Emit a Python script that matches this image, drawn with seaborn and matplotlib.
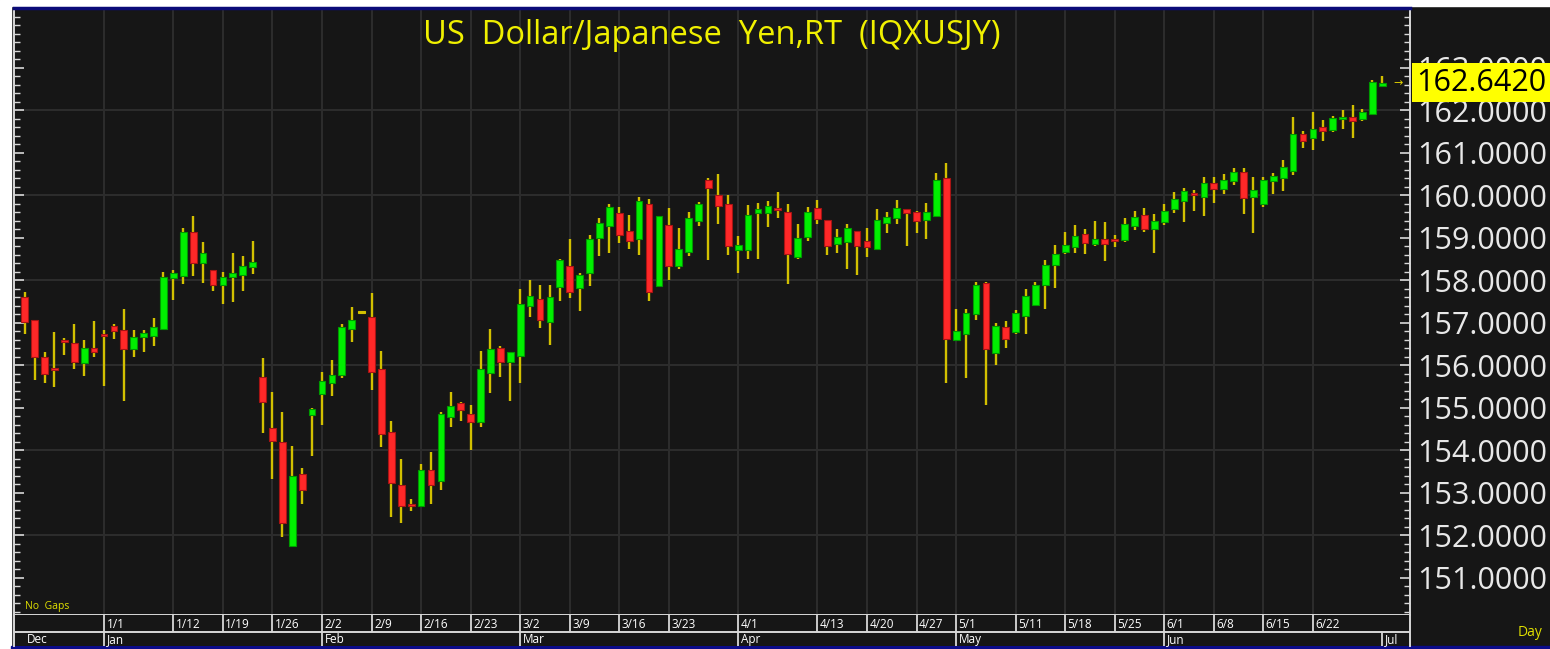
import numpy as np
import pandas as pd
import seaborn as sns
import matplotlib.pyplot as plt
from matplotlib.patches import Rectangle

# daily candles, Dec -> Jul (no gaps)
opens = [157.59, 157.06, 156.19, 155.93, 156.59, 156.52, 156.04, 156.40, 156.73, 156.93,
         156.83, 156.38, 156.65, 156.68, 156.84, 158.04, 158.10, 159.13, 158.41, 158.23,
         157.88, 158.07, 158.11, 158.31, 155.73, 154.53, 154.20, 151.75, 153.43, 154.82,
         155.31, 155.58, 155.77, 156.84, 157.23, 157.12, 155.90, 154.43, 153.17, 152.73,
         152.68, 153.53, 153.28, 154.78, 155.10, 154.86, 154.65, 155.82, 156.39, 156.08,
         156.21, 157.38, 157.56, 157.01, 157.84, 158.32, 157.81, 158.17, 159.00, 159.27,
         159.57, 159.16, 158.97, 159.79, 157.87, 159.29, 158.34, 158.67, 159.40, 160.36,
         160.00, 159.79, 158.71, 158.71, 159.57, 159.57, 159.69, 159.59, 158.54, 159.01,
         159.69, 159.42, 158.84, 158.90, 159.16, 158.92, 158.74, 159.34, 159.47, 159.68,
         159.59, 159.41, 159.51, 160.39, 156.58, 156.72, 157.19, 157.92, 156.29, 156.89,
         156.77, 157.15, 157.42, 157.88, 158.35, 158.67, 158.78, 159.09, 158.85, 158.96,
         158.93, 158.94, 159.28, 159.53, 159.21, 159.37, 159.68, 159.87, 160.05, 159.96,
         160.29, 160.14, 160.33, 160.55, 159.96, 159.80, 160.33, 160.40, 160.57, 161.43,
         161.34, 161.59, 161.52, 161.78, 161.83, 161.80, 161.90, 162.57]
highs = [157.73, 157.06, 156.30, 156.77, 156.64, 156.96, 156.59, 157.03, 156.83, 156.97,
         157.33, 156.83, 156.83, 157.11, 158.19, 158.24, 159.22, 159.50, 158.89, 158.23,
         158.19, 158.63, 158.56, 158.92, 156.16, 155.36, 154.89, 154.10, 153.57, 155.00,
         155.83, 156.13, 156.97, 157.36, 157.26, 157.70, 156.33, 154.69, 153.80, 152.85,
         153.67, 153.96, 154.90, 155.36, 155.14, 155.07, 156.33, 156.86, 156.46, 156.30,
         157.79, 157.99, 157.89, 157.89, 158.50, 158.96, 158.16, 159.06, 159.46, 159.80,
         159.72, 159.52, 159.95, 159.90, 159.50, 159.69, 159.22, 159.60, 159.83, 160.40,
         160.49, 160.00, 159.04, 159.76, 159.82, 159.86, 160.07, 159.79, 159.32, 159.73,
         159.89, 159.42, 159.19, 159.32, 159.16, 159.22, 159.66, 159.59, 159.89, 159.68,
         159.62, 159.82, 160.52, 160.76, 157.33, 157.33, 157.96, 157.96, 157.00, 157.03,
         157.29, 157.80, 157.96, 158.46, 158.82, 159.13, 159.29, 159.19, 159.39, 159.36,
         159.06, 159.46, 159.63, 159.69, 159.56, 159.79, 160.07, 160.16, 160.13, 160.42,
         160.42, 160.49, 160.63, 160.63, 160.42, 160.42, 160.52, 160.83, 161.83, 161.51,
         161.96, 161.76, 161.85, 162.00, 162.12, 162.02, 162.70, 162.79]
lows = [156.72, 155.64, 155.58, 155.48, 156.24, 155.91, 155.74, 156.18, 155.51, 156.61,
        155.15, 156.18, 156.31, 156.44, 156.84, 157.54, 157.90, 158.10, 157.94, 157.74,
        157.44, 157.48, 157.74, 158.14, 154.41, 153.31, 151.95, 151.75, 152.72, 153.85,
        154.58, 155.27, 155.70, 156.55, 157.22, 155.41, 154.08, 152.42, 152.28, 152.56,
        152.68, 152.72, 153.07, 154.54, 154.68, 154.01, 154.55, 155.35, 155.71, 155.15,
        155.58, 157.14, 156.88, 156.48, 157.51, 157.58, 157.27, 157.87, 158.57, 158.64,
        158.88, 158.74, 158.58, 157.50, 157.87, 158.00, 158.27, 158.57, 159.27, 158.47,
        159.33, 158.60, 158.17, 158.50, 158.50, 159.24, 159.47, 157.91, 158.50, 158.93,
        159.31, 158.60, 158.64, 158.27, 158.11, 158.54, 158.74, 159.11, 159.31, 158.81,
        159.11, 158.97, 159.51, 155.58, 156.58, 155.70, 157.07, 155.05, 156.01, 156.41,
        156.74, 156.74, 157.42, 157.31, 157.81, 158.61, 158.64, 158.61, 158.81, 158.44,
        158.77, 158.89, 159.17, 159.13, 158.63, 159.30, 159.57, 159.36, 159.63, 159.50,
        159.82, 160.03, 160.23, 159.56, 159.10, 159.73, 160.03, 160.10, 160.47, 161.10,
        161.07, 161.27, 161.49, 161.56, 161.33, 161.73, 161.90, 162.53]
closes = [157.01, 156.18, 155.78, 155.88, 156.55, 156.08, 156.40, 156.31, 156.68, 156.81,
          156.38, 156.66, 156.76, 156.90, 158.06, 158.16, 159.13, 158.41, 158.63, 157.88,
          158.06, 158.16, 158.33, 158.42, 155.12, 154.21, 152.29, 153.40, 153.06, 154.96,
          155.63, 155.76, 156.89, 157.06, 157.23, 155.84, 154.38, 153.22, 152.69, 152.69,
          153.53, 153.18, 154.84, 155.03, 154.95, 154.65, 155.90, 156.37, 156.08, 156.30,
          157.43, 157.63, 157.05, 157.59, 158.46, 157.71, 158.12, 158.96, 159.35, 159.72,
          159.07, 158.92, 159.86, 157.73, 159.50, 158.34, 158.72, 159.46, 159.79, 160.17,
          159.74, 158.81, 158.83, 159.53, 159.66, 159.75, 159.64, 158.61, 159.00, 159.59,
          159.44, 158.81, 159.02, 159.22, 158.81, 158.78, 159.42, 159.49, 159.69, 159.58,
          159.38, 159.59, 160.36, 156.62, 156.80, 157.23, 157.89, 156.38, 156.93, 156.62,
          157.23, 157.63, 157.89, 158.36, 158.62, 158.82, 159.03, 158.88, 158.96, 158.85,
          158.91, 159.32, 159.49, 159.21, 159.39, 159.62, 159.90, 160.09, 160.00, 160.29,
          160.14, 160.35, 160.55, 159.93, 160.12, 160.35, 160.45, 160.65, 161.43, 161.27,
          161.55, 161.50, 161.82, 161.79, 161.73, 161.95, 162.66, 162.642]

week_labels = ["1/1", "1/12", "1/19", "1/26", "2/2", "2/9", "2/16", "2/23", "3/2", "3/9",
               "3/16", "3/23", "4/1", "4/13", "4/20", "4/27", "5/1", "5/11", "5/18", "5/25",
               "6/1", "6/8", "6/15", "6/22"]
week_pos = [8, 15, 20, 25, 30, 35, 40, 45, 50, 55, 60, 65, 72, 80, 85, 90, 94, 100, 105,
            110, 115, 120, 125, 130]
month_labels = ["Dec", "Jan", "Feb", "Mar", "Apr", "May", "Jun", "Jul"]
month_pos = [0, 8, 30, 50, 72, 94, 115, 137]
price_ticks = list(range(151, 164))

title = "US  Dollar/Japanese  Yen,RT  (IQXUSJY)"

BG = "#161616"
GRID = "#2d2d2d"
WICK = "#d2c000"
UP, UP_EDGE = "#00f000", "#009a00"
DOWN, DOWN_EDGE = "#ff2828", "#a81414"
LINE = "#d8d8d8"

df = pd.DataFrame({"open": opens, "high": highs, "low": lows, "close": closes})
df["idx"] = np.arange(len(df))
df["bottom"] = df[["open", "close"]].min(axis=1)
df["height"] = (df["close"] - df["open"]).abs().clip(lower=0.045)
df["face"] = np.where(df["close"] > df["open"], UP,
                      np.where(df["close"] < df["open"], DOWN, WICK))
df["edge"] = np.where(df["close"] > df["open"], UP_EDGE,
                      np.where(df["close"] < df["open"], DOWN_EDGE, WICK))

sns.set_theme(style="dark")
plt.rcParams["font.family"] = ["Open Sans", "DejaVu Sans"]

fig = plt.figure(figsize=(15.5, 6.49), dpi=100, facecolor=BG)
W, H = 1550, 649
x0, x1, y0, y1 = 14, 1410, 8, 615
ax = fig.add_axes([x0 / W, 1 - y1 / H, (x1 - x0) / W, (y1 - y0) / H])
ax.set_facecolor(BG)

xlim = (-1.08, 139.8)
ax.set_xlim(*xlim)
ax.set_ylim(150.12, 164.38)

# grid
for p in range(152, 164, 2):
    ax.axhline(p, color=GRID, lw=1.4, zorder=0)
for p in week_pos:
    ax.axvline(p, color=GRID, lw=1.4, zorder=0)

# candles
ax.vlines(df["idx"], df["low"], df["high"], color=WICK, lw=1.7, zorder=2)
ax.bar(df["idx"], df["height"], bottom=df["bottom"], width=0.68,
       color=df["face"], edgecolor=df["edge"], linewidth=0.8, zorder=3)

# axes cosmetics
ax.set_xticks([])
ax.set_yticks(price_ticks)
ax.set_yticks(np.arange(150.2, 164.4, 0.2), minor=True)
ax.set_yticklabels([f"{v:.4f}" for v in price_ticks])
ax.tick_params(axis="y", which="major", direction="in", length=7, width=1.2,
               color=LINE, left=True, right=True, labelleft=False, labelright=True,
               labelsize=22, labelcolor="#e8e8e8", pad=5)
ax.tick_params(axis="y", which="minor", direction="in", length=4, width=1.0,
               color=LINE, left=True, right=True)
for s in ["left", "right", "bottom"]:
    ax.spines[s].set_color(LINE)
    ax.spines[s].set_linewidth(1.4)
ax.spines["top"].set_color("#0b0b78")
ax.spines["top"].set_linewidth(2.5)

ax.text(0.5, 0.9555, title, transform=ax.transAxes, ha="center", va="center",
        color="#f0f000", fontsize=23.5)
ax.text(0.008, 0.014, "No  Gaps", transform=ax.transAxes, ha="left", va="center",
        color="#e0e000", fontsize=7.5)

last = df["close"].iloc[-1]
ax.text(df["idx"].iloc[-1] + 1.6, last, "\u2192", color="#e0d000", fontsize=8,
        ha="center", va="center", family="DejaVu Sans")
ax.annotate(f"{last:.4f}", xy=(1, last), xycoords=("axes fraction", "data"),
            xytext=(6, 0), textcoords="offset pixels", ha="left", va="center",
            fontsize=22, color="black", annotation_clip=False, zorder=10,
            bbox=dict(boxstyle="square,pad=0.14", fc="#ffff00", ec="none"))

# date rows
axd = fig.add_axes([x0 / W, 1 - 646 / H, (x1 - x0) / W, 31 / H])
axd.set_facecolor(BG)
axd.set_xlim(*xlim)
axd.set_ylim(0, 31)
axd.set_xticks([])
axd.set_yticks([])
for s in ["left", "right"]:
    axd.spines[s].set_color(LINE)
    axd.spines[s].set_linewidth(1.4)
axd.spines["top"].set_visible(False)
axd.spines["bottom"].set_visible(False)
axd.axhline(14, color=LINE, lw=1.4)
axd.vlines(week_pos, 14, 31, color=LINE, lw=1.3)
axd.vlines(month_pos[1:], 0, 14, color=LINE, lw=1.3)
for p, lab in zip(week_pos, week_labels):
    axd.text(p + 0.25, 22, lab, color="white", fontsize=8.5, ha="left", va="center")
for p, lab in zip(month_pos, month_labels):
    axd.text(p + 0.25, 6.5, lab, color="white", fontsize=8.5, ha="left", va="center")

fig.text(1518 / W, 1 - 632 / H, "Day", color="#e0e000", fontsize=10,
         ha="left", va="center")

# window frame
fig.patches.append(Rectangle((0, 0), 11 / W, 1, transform=fig.transFigure,
                             color="white", zorder=-1))
fig.patches.append(Rectangle((0, 1 - 6 / H), 1, 6 / H, transform=fig.transFigure,
                             color="white", zorder=-1))
fig.patches.append(Rectangle((11 / W, 0), 1, 3 / H, transform=fig.transFigure,
                             color="#0b0b8a", zorder=-1))

fig.savefig("out.png", dpi=100, facecolor=fig.get_facecolor())
